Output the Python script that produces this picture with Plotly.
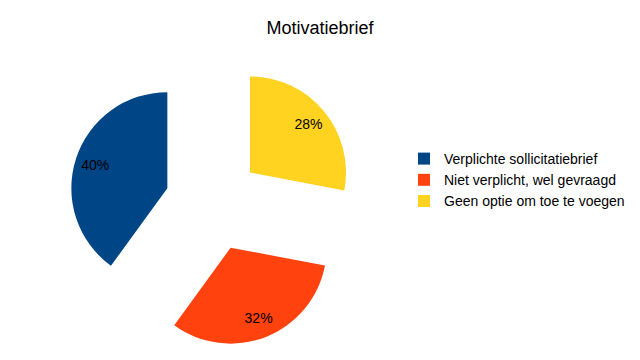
import plotly.graph_objects as go

labels = ["Verplichte sollicitatiebrief", "Niet verplicht, wel gevraagd", "Geen optie om toe te voegen"]
values = [40, 32, 28]
colors = ["#004586", "#ff420e", "#ffd320"]
pulls = [0.5, 0.5, 0.5]

W, H = 640, 360
cx, cy, size = 213, 203, 288
domain = dict(x=[(cx - size / 2) / W, (cx + size / 2) / W],
              y=[1 - (cy + size / 2) / H, 1 - (cy - size / 2) / H])

common = dict(labels=labels, values=values, sort=False, direction="counterclockwise",
              rotation=-144, pull=pulls, hoverinfo="skip", domain=domain)

fig = go.Figure()
fig.add_trace(go.Pie(
    marker=dict(colors=colors, line=dict(width=0)),
    textinfo="none",
    **common,
))
# transparent ring carrying the percentage labels further out in each slice
fig.add_trace(go.Pie(
    marker=dict(colors=["rgba(0,0,0,0)"] * 3, line=dict(width=0)),
    hole=0.58,
    textinfo="percent",
    textposition="inside",
    insidetextorientation="horizontal",
    textfont=dict(family="Liberation Sans", size=14, color="black"),
    showlegend=False,
    **common,
))

fig.update_layout(
    width=W, height=H,
    margin=dict(l=0, r=0, t=0, b=0),
    paper_bgcolor="white",
    plot_bgcolor="white",
    font=dict(family="Liberation Sans", color="black"),
    title=dict(text="Motivatiebrief", x=0.5, xanchor="center", y=1 - 28 / H, yanchor="middle",
               font=dict(size=18, family="Liberation Sans", color="black")),
    legend=dict(x=404 / W, xanchor="left", y=0.5, yanchor="middle",
                font=dict(size=14, family="Liberation Sans", color="black"),
                bgcolor="rgba(0,0,0,0)"),
    showlegend=True,
)

fig.write_html("out.html", config={"displayModeBar": False},
               post_script="document.body.style.margin='0';")
